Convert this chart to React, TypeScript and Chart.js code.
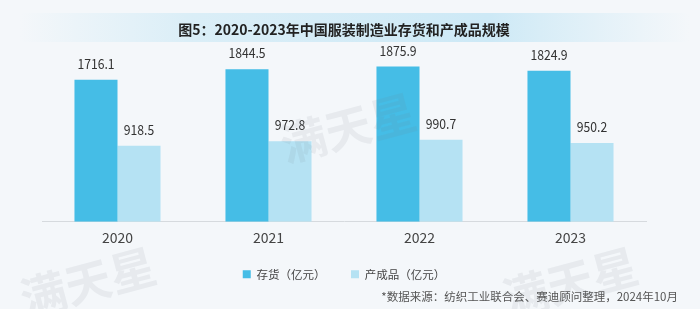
import React, { useEffect, useRef } from "react";
import { Chart, registerables } from "chart.js";

Chart.register(...registerables);

const categories = ["2020", "2021", "2022", "2023"];
const inventory = [1716.1, 1844.5, 1875.9, 1824.9];
const finishedGoods = [918.5, 972.8, 990.7, 950.2];
const seriesNames = ["存货（亿元）", "产成品（亿元）"];
const titleText = "图5：2020-2023年中国服装制造业存货和产成品规模";
const sourceText = "*数据来源：纺织工业联合会、赛迪顾问整理，2024年10月";
const watermarkText = "满天星";

const FONT = '"Noto Sans CJK SC", "Noto Sans", sans-serif';
const W = 700;
const H = 309;

const decorPlugin = {
  id: "decor",
  beforeDraw(chart: any) {
    const ctx = chart.ctx;
    ctx.save();
    ctx.fillStyle = "#f4f7fa";
    ctx.fillRect(0, 0, W, H);
    const g = ctx.createLinearGradient(20, 0, 690, 0);
    g.addColorStop(0, "rgba(210,235,246,0)");
    g.addColorStop(0.25, "rgba(210,235,246,0.75)");
    g.addColorStop(0.7, "rgba(205,233,246,1)");
    g.addColorStop(1, "rgba(210,235,246,0)");
    ctx.fillStyle = g;
    ctx.fillRect(20, 13, 670, 29);
    ctx.restore();
  },
  afterDatasetsDraw(chart: any) {
    const ctx = chart.ctx;
    ctx.save();
    ctx.font = `14px ${FONT}`;
    ctx.fillStyle = "#333333";
    ctx.textAlign = "center";
    ctx.textBaseline = "alphabetic";
    chart.data.datasets.forEach((ds: any, di: number) => {
      const meta = chart.getDatasetMeta(di);
      meta.data.forEach((el: any, i: number) => {
        ctx.save();
        ctx.translate(el.x, el.y - 11);
        ctx.scale(0.87, 1);
        ctx.fillText(Number(ds.data[i]).toFixed(1), 0, 0);
        ctx.restore();
      });
    });
    ctx.restore();
  },
  afterDraw(chart: any) {
    const ctx = chart.ctx;
    ctx.save();
    ctx.font = `11.5px ${FONT}`;
    ctx.fillStyle = "#555555";
    ctx.textAlign = "right";
    ctx.textBaseline = "middle";
    ctx.fillText(sourceText, 678, 297);
    // watermarks
    const marks = [
      [88, 282],
      [348, 128],
      [570, 282],
    ];
    ctx.font = `bold 46px ${FONT}`;
    ctx.fillStyle = "rgba(120,130,140,0.10)";
    ctx.textAlign = "center";
    marks.forEach(([x, y]) => {
      ctx.save();
      ctx.translate(x, y);
      ctx.rotate(-0.26);
      ctx.fillText(watermarkText, 0, 0);
      ctx.restore();
    });
    ctx.restore();
  },
};

export default function App() {
  const ref = useRef<HTMLCanvasElement | null>(null);

  useEffect(() => {
    document.body.style.margin = "0";
    const canvas = ref.current;
    if (!canvas) return;
    const chart = new Chart(canvas, {
      type: "bar",
      data: {
        labels: categories,
        datasets: [
          {
            label: seriesNames[0],
            data: inventory,
            backgroundColor: "#45bde6",
            borderWidth: 0,
            categoryPercentage: 0.57,
            barPercentage: 1,
          },
          {
            label: seriesNames[1],
            data: finishedGoods,
            backgroundColor: "#b5e2f3",
            borderWidth: 0,
            categoryPercentage: 0.57,
            barPercentage: 1,
          },
        ],
      },
      options: {
        responsive: false,
        animation: false,
        devicePixelRatio: 1,
        layout: {
          padding: { left: 42, right: 54, top: 0, bottom: 19 },
        },
        plugins: {
          title: {
            display: true,
            text: titleText,
            color: "#222222",
            font: { family: FONT, size: 14, weight: "bold", lineHeight: 1.2 },
            padding: { top: 21, bottom: 18.5 },
          },
          legend: {
            display: true,
            position: "bottom",
            labels: {
              boxWidth: 8,
              boxHeight: 8,
              padding: 14,
              color: "#444444",
              font: { family: FONT, size: 11.5 },
              generateLabels(chart: any) {
                const items = Chart.defaults.plugins.legend.labels.generateLabels(chart);
                items.forEach((it: any, i: number) => {
                  it.lineWidth = 0;
                  if (i === 0) it.text = it.text + "\u2003";
                });
                return items;
              },
            },
          },
          tooltip: { enabled: false },
        },
        scales: {
          x: {
            grid: { display: false, drawTicks: false },
            border: { display: true, color: "#d6dade", width: 1 },
            ticks: {
              color: "#444444",
              padding: 8,
              font: { family: FONT, size: 14 },
            },
          },
          y: {
            display: false,
            min: 0,
            max: 2000,
          },
        },
      },
      plugins: [decorPlugin],
    } as any);
    return () => chart.destroy();
  }, []);

  return (
    <div style={{ width: W, height: H }}>
      <canvas ref={ref} width={W} height={H} style={{ display: "block" }} />
    </div>
  );
}
